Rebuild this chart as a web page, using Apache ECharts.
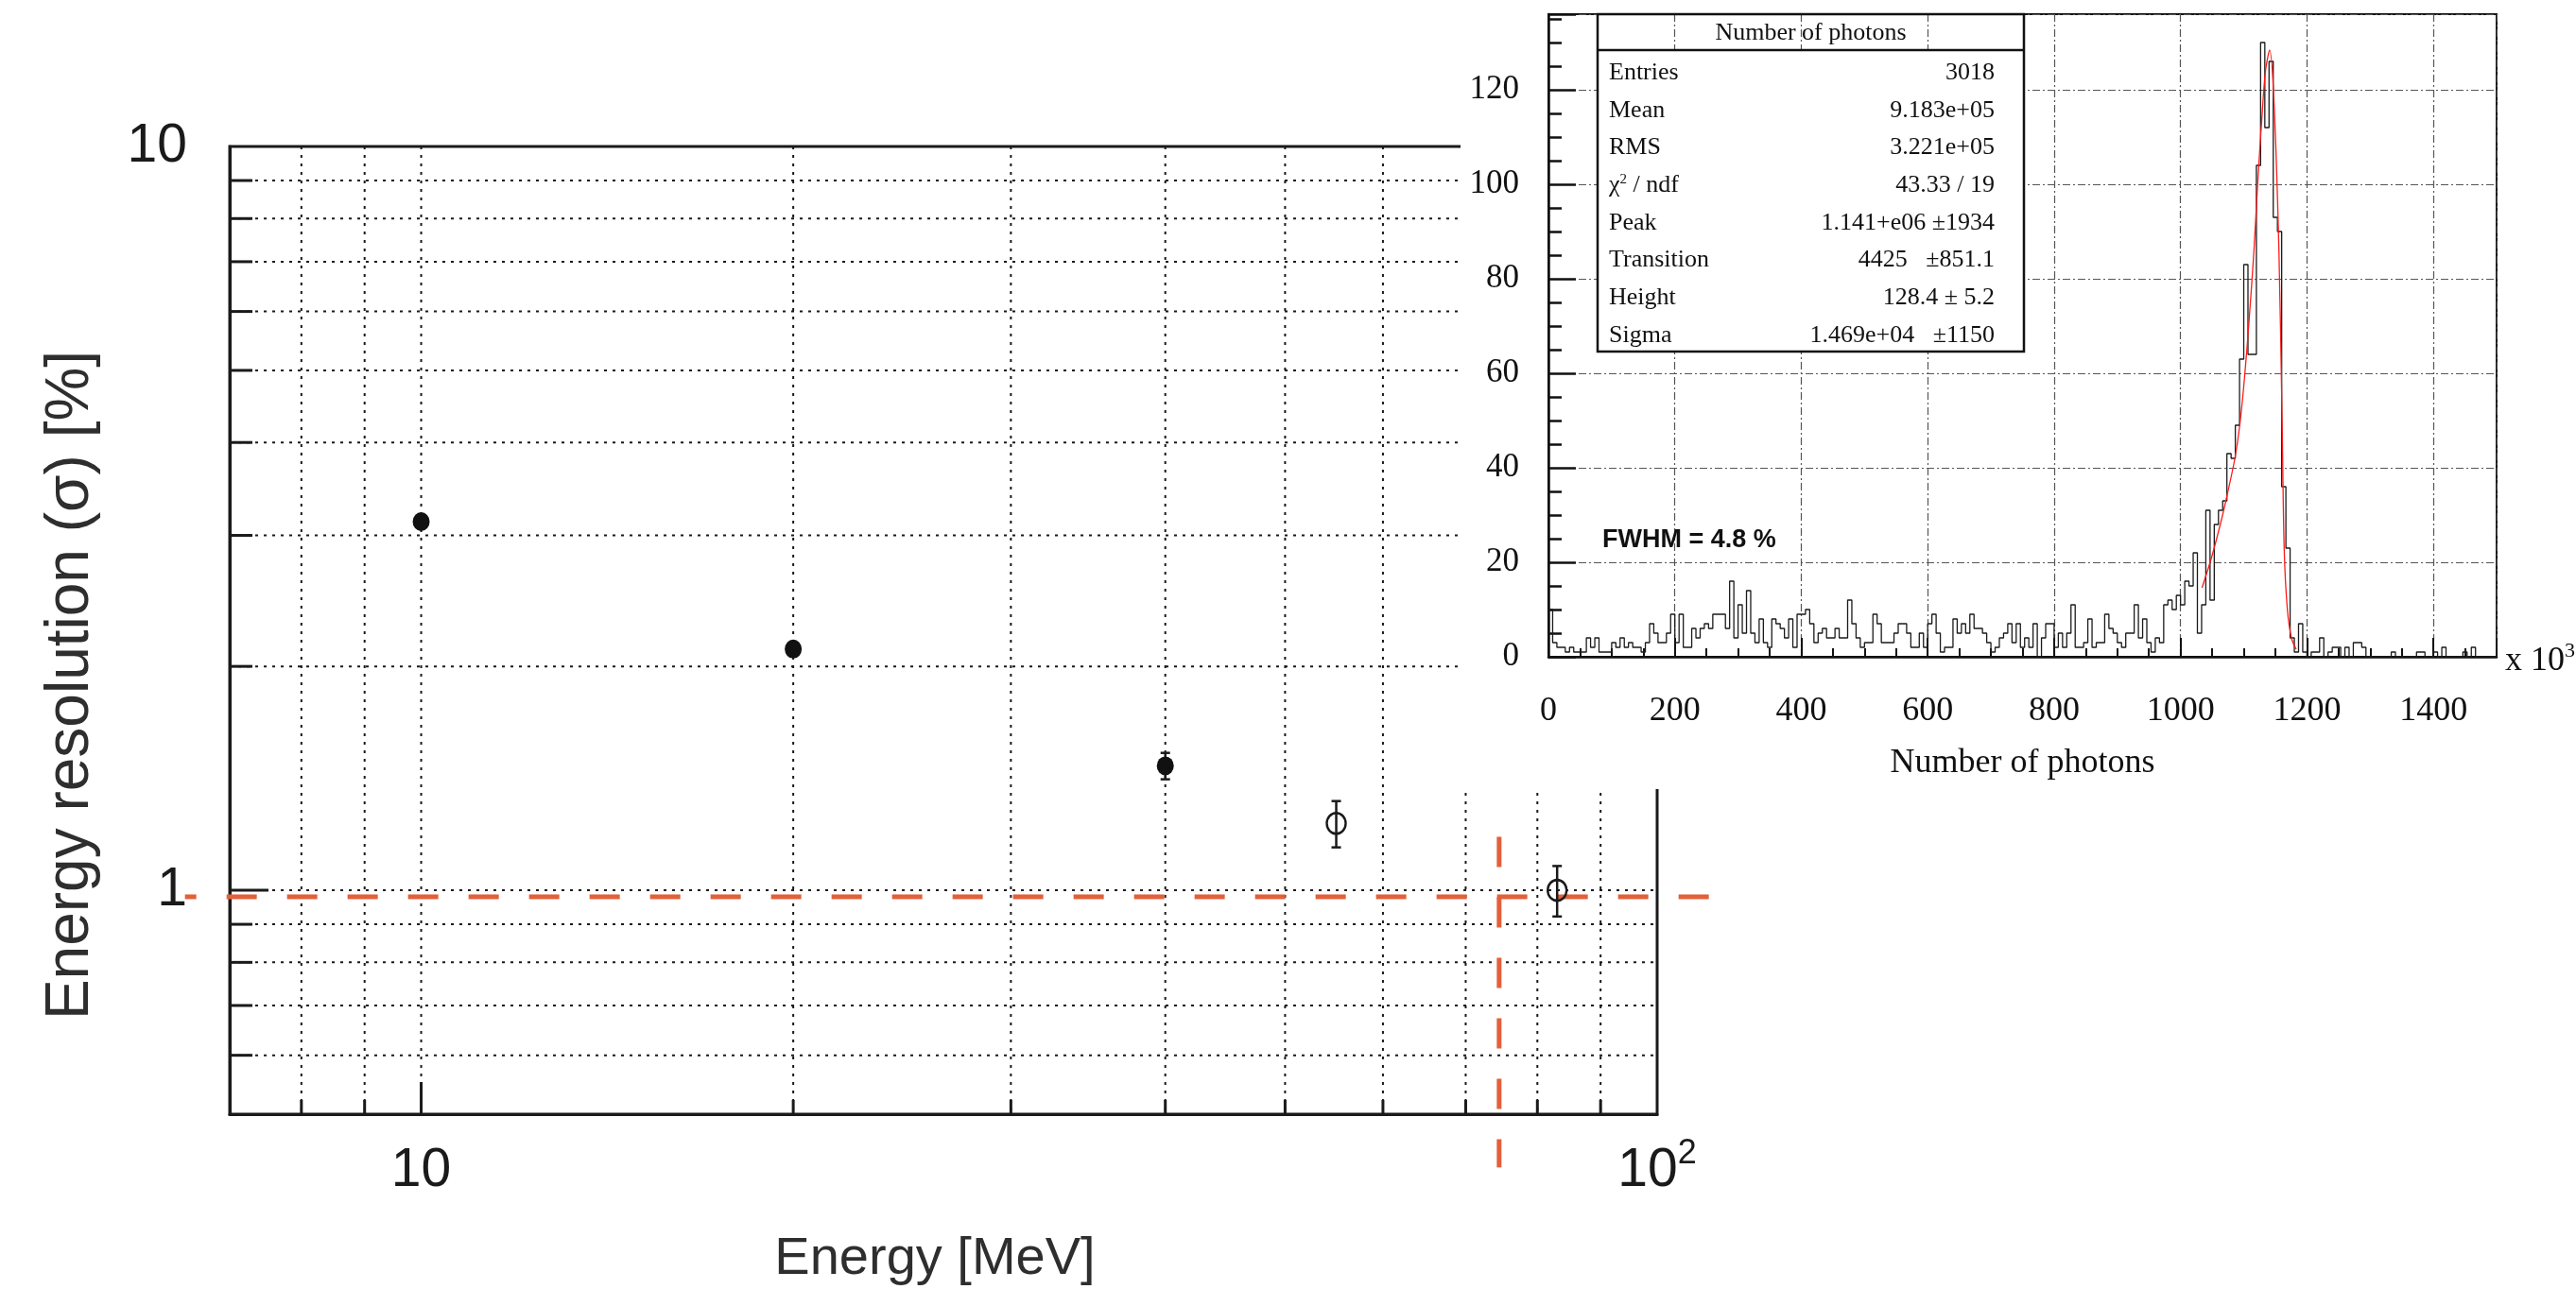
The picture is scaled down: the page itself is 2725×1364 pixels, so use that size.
<!DOCTYPE html>
<html>
<head>
<meta charset="utf-8">
<script src="https://cdn.jsdelivr.net/npm/echarts@6/dist/echarts.min.js"></script>
<style>
  html, body { margin: 0; padding: 0; background: #fff; }
  #main  { position: absolute; left: 0; top: 0; width: 2725px; height: 1364px; }
  #inset { position: absolute; left: 1545px; top: 0; width: 1180px; height: 835px; background: #fff; }
</style>
</head>
<body>
<div id="main"></div>
<div id="inset"></div>
<script>
// ---------------- Energy resolution vs. beam energy ----------------
const beamEnergy     = [10, 20, 40, 55, 83];          // MeV
const resolution     = [3.13, 2.11, 1.47, 1.23, 1.0]; // sigma [%]
const resolutionErr  = [0, 0, 0.06, 0.088, 0.078];
const openMarker     = [false, false, false, true, true];

const energyRange     = [7, 100];
const resolutionRange = [0.5, 10];
const energyGrid      = [8, 9, 10, 20, 30, 40, 50, 60, 70, 80, 90];
const resolutionGrid  = [0.6, 0.7, 0.8, 0.9, 1, 2, 3, 4, 5, 6, 7, 8, 9];

// dashed guide lines (1 % level and the energy cut)
const guideResolution     = 0.98;
const guideResolutionSpan = [6.44, 111];
const guideEnergy         = 74.5;
const guideEnergySpan     = [0.424, 1.18];

// ---------------- Photon-count spectrum (x 10^3 photons) ----------------
const spectrumRange = [0, 1500];
const countRange    = [0, 136];
const photonCounts = [
  10, 3, 2, 2, 1, 2, 1, 1, 1, 4,
  2, 4, 1, 1, 1, 3, 2, 4, 2, 3,
  2, 2, 1, 3, 7, 5, 3, 3, 5, 9,
  3, 9, 2, 2, 6, 4, 6, 7, 6, 9,
  9, 9, 6, 16, 4, 11, 5, 14, 5, 3,
  8, 3, 2, 8, 7, 6, 4, 8, 2, 9,
  9, 10, 7, 3, 5, 6, 4, 4, 6, 4,
  4, 12, 7, 4, 2, 3, 3, 9, 7, 3,
  3, 3, 5, 7, 7, 5, 2, 2, 5, 2,
  7, 9, 5, 1, 2, 2, 8, 5, 7, 5,
  9, 6, 6, 5, 3, 1, 2, 4, 5, 7,
  3, 7, 2, 4, 2, 7, 0, 4, 7, 7,
  2, 5, 2, 5, 11, 2, 2, 3, 8, 2,
  3, 3, 9, 6, 5, 3, 2, 5, 5, 11,
  4, 8, 3, 1, 4, 3, 11, 12, 10, 13,
  11, 16, 15, 22, 5, 11, 31, 12, 28, 31,
  33, 43, 42, 49, 63, 83, 64, 64, 104, 130,
  112, 126, 93, 90, 36, 23, 4, 1, 7, 1,
  0, 1, 1, 4, 0, 1, 2, 2, 0, 2,
  0, 3, 3, 2, 0, 0, 0, 0, 0, 0,
  1, 0, 0, 0, 0, 0, 1, 1, 0, 0,
  1, 0, 2, 0, 0, 0, 0, 1, 0, 2,
  0, 0, 0, 0, 0
];
// fitted peak shape, sampled points [x 10^3 photons, counts]
const fitCurve = [
  [1034, 14.6], [1049, 21], [1064, 28.6], [1074, 34.4], [1086, 42],
  [1093.5, 48.8], [1101, 58.7], [1108.5, 71.3], [1116, 85.7], [1122.4, 101],
  [1128.4, 113.5], [1134.3, 123.9], [1141, 128.4], [1148, 117], [1155.7, 85.7],
  [1160.7, 49.7], [1164, 22.7], [1169, 10], [1175.6, 3.9], [1183, 1.6]
];
const statsTitle = 'Number of photons';
const statsNames  = ['Entries', 'Mean', 'RMS', 'χ{s|2} / ndf', 'Peak', 'Transition', 'Height', 'Sigma'];
const statsValues = ['3018', '9.183e+05', '3.221e+05', '43.33 / 19', '1.141+e06 ±1934',
                     '4425   ±851.1', '128.4 ± 5.2', '1.469e+04   ±1150'];
const fwhmText = 'FWHM = 4.8 %';

const SANS  = '"Liberation Sans", Arial, Helvetica, sans-serif';
const SERIF = '"Liberation Serif", "Times New Roman", Times, serif';

function powerLabel(v) {
  const e = Math.log10(v);
  const r = Math.round(e);
  if (Math.abs(e - r) > 1e-6) return '';
  if (r === 0) return '{b|1}';
  if (r === 1) return '{b|10}';
  return '{b|10}{sup|' + r + '}';
}

// ================= main plot =================
const mainChart = echarts.init(document.getElementById('main'));
const INK = '#1a1a1a';

const filledPts = [], openPts = [], errPts = [];
beamEnergy.forEach((e, i) => {
  (openMarker[i] ? openPts : filledPts).push([e, resolution[i]]);
  if (resolutionErr[i] > 0) errPts.push([e, resolution[i], resolutionErr[i]]);
});

const labelRich = {
  b:   { fontSize: 57, fontFamily: SANS, color: INK, lineHeight: 72 },
  sup: { fontSize: 36, fontFamily: SANS, color: INK, padding: [0, 0, 36, 0] }
};

mainChart.setOption({
  animation: false,
  grid: { left: 243, top: 155, width: 1510, height: 1024, show: true,
          borderColor: INK, borderWidth: 3, backgroundColor: 'transparent' },
  xAxis: {
    type: 'log', logBase: 10, min: energyRange[0], max: energyRange[1],
    axisLine: { show: true, lineStyle: { color: INK, width: 3 } },
    axisTick: { show: false }, splitLine: { show: false },
    axisLabel: { formatter: powerLabel, margin: 24, rich: labelRich,
                 showMinLabel: false }
  },
  yAxis: {
    type: 'log', logBase: 10, min: resolutionRange[0], max: resolutionRange[1],
    axisLine: { show: true, lineStyle: { color: INK, width: 3 } },
    axisTick: { show: false }, splitLine: { show: false },
    axisLabel: { formatter: powerLabel, margin: 45, rich: labelRich,
                 showMinLabel: false }
  },
  graphic: [
    { type: 'text', x: 989, y: 1333,
      style: { text: 'Energy [MeV]', fontFamily: SANS, fontSize: 56, fill: '#2e2e2e',
               align: 'center', verticalAlign: 'middle' } },
    { type: 'text', x: 75, y: 725, rotation: Math.PI / 2,
      style: { text: 'Energy resolution (σ) [%]', fontFamily: SANS, fontSize: 64, fill: '#2e2e2e',
               align: 'center', verticalAlign: 'middle' } }
  ],
  series: [
    { // vertical dotted grid + bottom ticks
      type: 'custom', silent: true, z: 1,
      data: energyGrid.map(v => [v, 1]),
      renderItem(params, api) {
        const v = api.value(0);
        const top = api.coord([v, resolutionRange[1]]);
        const bot = api.coord([v, resolutionRange[0]]);
        const len = Math.abs(Math.log10(v) - 1) < 1e-9 ? 34 : 15;
        return { type: 'group', children: [
          { type: 'line', shape: { x1: top[0], y1: top[1], x2: bot[0], y2: bot[1] },
            style: { stroke: INK, lineWidth: 2, lineDash: [3, 6] } },
          { type: 'line', shape: { x1: bot[0], y1: bot[1], x2: bot[0], y2: bot[1] - len },
            style: { stroke: INK, lineWidth: 3 } }
        ] };
      }
    },
    { // horizontal dotted grid + left ticks
      type: 'custom', silent: true, z: 1,
      data: resolutionGrid.map(v => [10, v]),
      renderItem(params, api) {
        const v = api.value(1);
        const l = api.coord([energyRange[0], v]);
        const r = api.coord([energyRange[1], v]);
        const len = Math.abs(Math.log10(v)) < 1e-9 ? 41 : 24;
        return { type: 'group', children: [
          { type: 'line', shape: { x1: l[0], y1: l[1], x2: r[0], y2: r[1] },
            style: { stroke: INK, lineWidth: 2, lineDash: [3, 6] } },
          { type: 'line', shape: { x1: l[0], y1: l[1], x2: l[0] + len, y2: l[1] },
            style: { stroke: INK, lineWidth: 3 } }
        ] };
      }
    },
    { // orange dashed guide lines
      type: 'custom', silent: true, z: 3,
      encode: { x: [0, 2], y: [1, 3] },
      data: [
        [guideResolutionSpan[0], guideResolution, guideResolutionSpan[1], guideResolution, 20],
        [guideEnergy, guideEnergySpan[1], guideEnergy, guideEnergySpan[0], 0]
      ],
      renderItem(params, api) {
        const a = api.coord([api.value(0), api.value(1)]);
        const b = api.coord([api.value(2), api.value(3)]);
        return { type: 'line', shape: { x1: a[0], y1: a[1], x2: b[0], y2: b[1] },
                 style: { stroke: '#e2603a', lineWidth: 5, lineDash: [32, 32],
                          lineDashOffset: api.value(4) } };
      }
    },
    { // error bars
      type: 'custom', silent: true, z: 4,
      data: errPts,
      renderItem(params, api) {
        const x = api.value(0), y = api.value(1), e = api.value(2);
        const hi = api.coord([x, y + e]), lo = api.coord([x, y - e]);
        const cap = 5, st = { stroke: INK, lineWidth: 2.5 };
        return { type: 'group', children: [
          { type: 'line', shape: { x1: hi[0], y1: hi[1], x2: lo[0], y2: lo[1] }, style: st },
          { type: 'line', shape: { x1: hi[0] - cap, y1: hi[1], x2: hi[0] + cap, y2: hi[1] }, style: st },
          { type: 'line', shape: { x1: lo[0] - cap, y1: lo[1], x2: lo[0] + cap, y2: lo[1] }, style: st }
        ] };
      }
    },
    { type: 'scatter', z: 5, data: filledPts, symbol: 'circle', symbolSize: [18, 20],
      itemStyle: { color: '#111', opacity: 1 } },
    { type: 'scatter', z: 5, data: openPts, symbol: 'circle', symbolSize: [20, 22],
      itemStyle: { color: 'rgba(0,0,0,0)', borderColor: INK, borderWidth: 2.5, opacity: 1 } }
  ]
});

// ================= photon spectrum =================
const insetChart = echarts.init(document.getElementById('inset'));
const binWidth = (spectrumRange[1] - spectrumRange[0]) / photonCounts.length;
const histPoints = photonCounts.map((c, i) => [spectrumRange[0] + i * binWidth, c]);
histPoints.push([spectrumRange[1], photonCounts[photonCounts.length - 1]]);

const HINK = '#111';
const dashDot = { color: '#555', width: 1.2, type: [8, 3, 2, 3] };

// stats box geometry (pixels inside the spectrum panel)
const BOX = { x: 145, y: 15, w: 451, h: 357, head: 38, left: 157, right: 565, row0: 77, step: 39.7 };

const statsGraphics = [
  { type: 'rect', z: 100, shape: { x: BOX.x, y: BOX.y + BOX.head, width: BOX.w, height: BOX.h - BOX.head },
    style: { fill: '#fff' } },
  { type: 'rect', z: 101, shape: { x: BOX.x, y: BOX.y, width: BOX.w, height: BOX.h },
    style: { fill: 'none', stroke: HINK, lineWidth: 2.5 } },
  { type: 'line', z: 101, shape: { x1: BOX.x, y1: BOX.y + BOX.head, x2: BOX.x + BOX.w, y2: BOX.y + BOX.head },
    style: { stroke: HINK, lineWidth: 2.5 } },
  { type: 'text', z: 102, x: BOX.x + BOX.w / 2, y: BOX.y + BOX.head / 2 + 1,
    style: { text: statsTitle, fontFamily: SERIF, fontSize: 26, fill: HINK,
             align: 'center', verticalAlign: 'middle' } }
];
statsNames.forEach((n, i) => {
  const y = BOX.row0 + i * BOX.step;
  statsGraphics.push({ type: 'text', z: 102, x: BOX.left, y,
    style: { text: n, fontFamily: SERIF, fontSize: 26, fill: HINK, align: 'left', verticalAlign: 'middle',
             rich: { s: { fontFamily: SERIF, fontSize: 15, fill: HINK, padding: [0, 0, 12, 0] } } } });
  statsGraphics.push({ type: 'text', z: 102, x: BOX.right, y,
    style: { text: statsValues[i], fontFamily: SERIF, fontSize: 26, fill: HINK, align: 'right', verticalAlign: 'middle' } });
});
statsGraphics.push(
  { type: 'text', z: 102, x: 150, y: 572,
    style: { text: fwhmText, fontFamily: SANS, fontWeight: 'bold', fontSize: 27, fill: HINK,
             align: 'left', verticalAlign: 'middle' } },
  { type: 'text', z: 102, x: 1105, y: 700,
    style: { text: 'x 10{s|3}', fontFamily: SERIF, fontSize: 36, fill: HINK, align: 'left', verticalAlign: 'middle',
             rich: { s: { fontFamily: SERIF, fontSize: 22, fill: HINK, padding: [0, 0, 22, 0] } } } }
);

insetChart.setOption({
  animation: false,
  grid: { left: 93, top: 15, width: 1003, height: 680, show: true,
          borderColor: HINK, borderWidth: 2, backgroundColor: 'transparent' },
  xAxis: {
    type: 'value', min: spectrumRange[0], max: spectrumRange[1], interval: 200,
    axisLine: { show: true, onZero: false, lineStyle: { color: HINK, width: 2.5 } },
    axisTick: { show: true, inside: true, length: 20, lineStyle: { color: HINK, width: 2 } },
    minorTick: { show: true, splitNumber: 4, length: 9, lineStyle: { color: HINK, width: 2 } },
    splitLine: { show: true, lineStyle: dashDot },
    axisLabel: { showMaxLabel: false, fontFamily: SERIF, fontSize: 36, color: HINK, margin: 40,
                 formatter: v => String(v) },
    name: 'Number of photons', nameLocation: 'middle', nameGap: 95,
    nameTextStyle: { fontFamily: SERIF, fontSize: 36, color: HINK }
  },
  yAxis: {
    type: 'value', min: countRange[0], max: countRange[1], interval: 20,
    axisLine: { show: true, onZero: false, lineStyle: { color: HINK, width: 2.5 } },
    axisTick: { show: true, inside: true, length: 29, lineStyle: { color: HINK, width: 2.5 } },
    minorTick: { show: true, splitNumber: 4, length: 14, lineStyle: { color: HINK, width: 2.5 } },
    splitLine: { show: true, lineStyle: dashDot },
    axisLabel: { showMaxLabel: false, fontFamily: SERIF, fontSize: 35, color: HINK, margin: 31,
                 formatter: v => String(v) }
  },
  graphic: statsGraphics,
  series: [
    { type: 'line', step: 'end', data: histPoints, showSymbol: false, z: 3,
      lineStyle: { color: '#1a1a1a', width: 1.3 } },
    { type: 'line', data: fitCurve, smooth: 0.3, showSymbol: false, z: 4,
      lineStyle: { color: '#ff1a1a', width: 1.3 } }
  ]
});
</script>
</body>
</html>
